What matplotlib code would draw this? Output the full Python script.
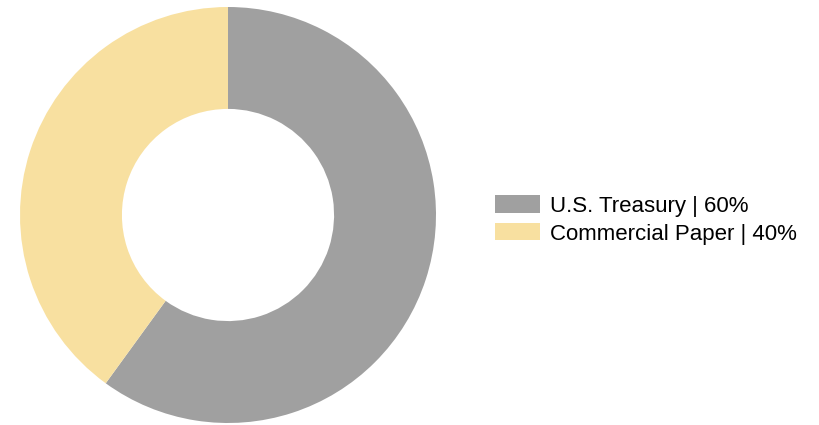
import matplotlib.pyplot as plt

# Data
labels = ["U.S. Treasury | 60%", "Commercial Paper | 40%"]
values = [60, 40]
colors = ["#A0A0A0", "#F8E0A0"]

plt.rcParams['font.family'] = ['Liberation Sans', 'DejaVu Sans']

W, H = 819, 425
fig = plt.figure(figsize=(W / 100, H / 100), dpi=100)

# Donut axes placed in pixels
ax = fig.add_axes([20 / W, 2 / H, 416 / W, 416 / H])
wedges, _ = ax.pie(values, colors=colors, startangle=90, counterclock=False,
                   radius=1, wedgeprops=dict(width=0.49, edgecolor='none'))
ax.set_xlim(-1, 1)
ax.set_ylim(-1, 1)
ax.set_aspect('equal')
ax.axis('off')

fig.legend(wedges, labels, loc='center left', bbox_to_anchor=(495 / W, 1 - 220 / H),
           frameon=False, fontsize=16, handlelength=2.03, handleheight=0.81,
           handletextpad=0.45, labelspacing=0.3, borderpad=0, borderaxespad=0)

fig.savefig("out.png", dpi=100)
